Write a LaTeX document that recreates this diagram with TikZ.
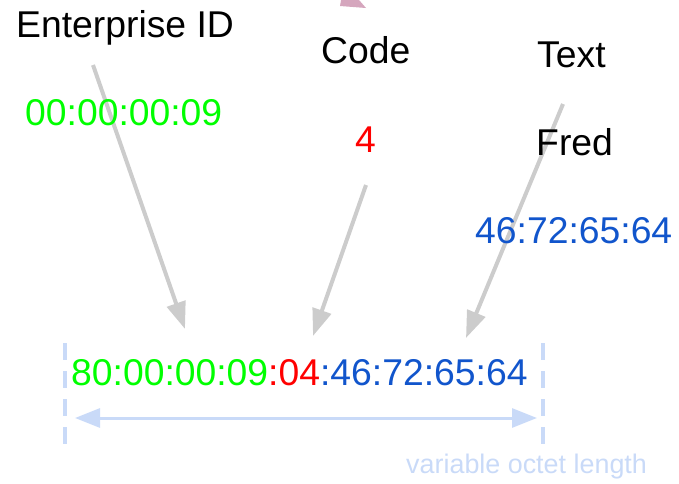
\documentclass[tikz,border=0pt]{standalone}
\usepackage{fontspec}
\setmainfont{Liberation Sans}
\usetikzlibrary{arrows.meta}

\definecolor{idgreen}{HTML}{00FF00}
\definecolor{codered}{HTML}{FF0000}
\definecolor{textblue}{HTML}{1155CC}
\definecolor{pointergray}{HTML}{CCCCCC}
\definecolor{spanblue}{HTML}{C9DAF8}
\definecolor{accentpink}{HTML}{D5A6BD}

\tikzset{
  label/.style={inner sep=0pt, anchor=base west, font=\fontsize{37.3}{44}\selectfont},
  smalllabel/.style={inner sep=0pt, anchor=base west, font=\fontsize{26.9}{32}\selectfont, text=spanblue},
  pointer/.style={draw=pointergray, line width=4pt, -{Triangle[length=27pt,width=19pt]}},
  bound/.style={draw=spanblue, line width=4pt, dash pattern=on 17pt off 11pt},
  span/.style={draw=spanblue, line width=3pt, {Triangle[length=25pt,width=19pt]}-{Triangle[length=25pt,width=19pt]}}
}

\begin{document}
\begin{tikzpicture}[x=1pt, y=-1pt]
  \useasboundingbox (0,0) rectangle (679,483);

  % partial shape at the top edge
  \fill[accentpink] (341,0) -- (340,6) -- (366,8) -- (359,0) -- cycle;

  % pointers from the fields into the encoded string
  \coordinate (entFrom)  at (93,65);
  \coordinate (entTo)    at (185,329);
  \coordinate (codeFrom) at (366,185);
  \coordinate (codeTo)   at (313,336);
  \coordinate (textFrom) at (563,104);
  \coordinate (textTo)   at (466,338);
  \draw[pointer] (entFrom)  -- (entTo);
  \draw[pointer] (codeFrom) -- (codeTo);
  \draw[pointer] (textFrom) -- (textTo);

  % field headings and their values
  \node[label] (entHead)  at (16,37)   {Enterprise ID};
  \node[label, text=idgreen] (entVal) at (25,125) {00:00:00:09};
  \node[label] (codeHead) at (321,63)  {Code};
  \node[label, text=codered] (codeVal) at (355,152) {4};
  \node[label] (textHead) at (537,67)  {Text};
  \node[label] (textVal)  at (536,155) {Fred};
  \node[label, text=textblue] (textHex) at (475,243) {46:72:65:64};

  % encoded octet string
  \node[label] (encoded) at (71,385)
    {\textcolor{idgreen}{80:00:00:09}\textcolor{codered}{:04}\textcolor{textblue}{:46:72:65:64}};

  % length marker
  \coordinate (leftTop)  at (65,343);
  \coordinate (leftBot)  at (65,444);
  \coordinate (rightTop) at (543,343);
  \coordinate (rightBot) at (543,444);
  \draw[bound] (leftTop) -- (leftBot);
  \draw[bound] (rightTop) -- (rightBot);
  \coordinate (spanL) at (75,418);
  \coordinate (spanR) at (537,418);
  \draw[span] (spanL) -- (spanR);
  \node[smalllabel] (lenLabel) at (406,473) {variable octet length};
\end{tikzpicture}
\end{document}
